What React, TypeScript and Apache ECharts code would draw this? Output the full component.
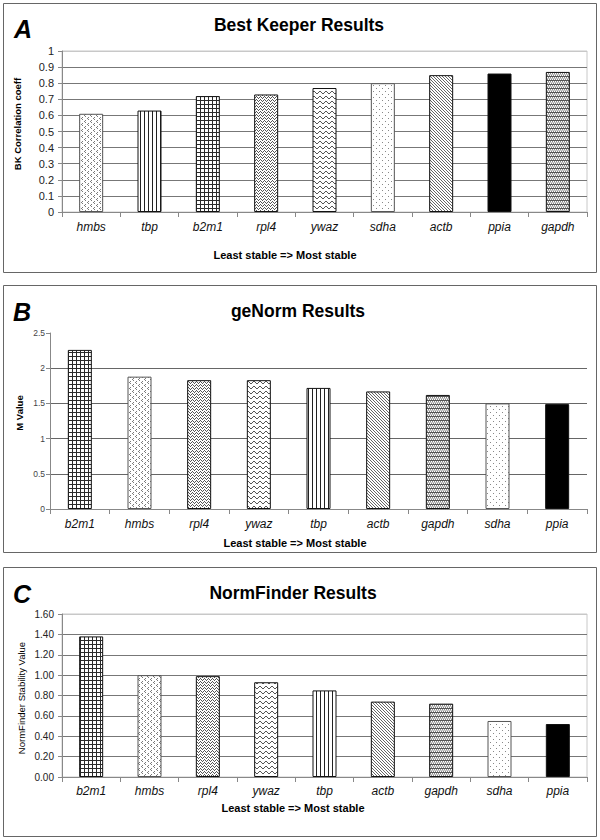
import React, { useEffect, useRef } from "react";
import * as echarts from "echarts";

// ---------- data ----------
const bkCategories = ["hmbs", "tbp", "b2m1", "rpl4", "ywaz", "sdha", "actb", "ppia", "gapdh"];
const bkValues = [0.61, 0.63, 0.72, 0.73, 0.77, 0.8, 0.85, 0.86, 0.87];

const genormCategories = ["b2m1", "hmbs", "rpl4", "ywaz", "tbp", "actb", "gapdh", "sdha", "ppia"];
const genormValues = [2.26, 1.88, 1.83, 1.83, 1.72, 1.67, 1.62, 1.5, 1.49];

const nfCategories = ["b2m1", "hmbs", "rpl4", "ywaz", "tbp", "actb", "gapdh", "sdha", "ppia"];
const nfValues = [1.38, 1.0, 0.99, 0.93, 0.85, 0.74, 0.72, 0.55, 0.52];

const bkAxis = { min: 0, max: 1, interval: 0.1 };
const genormAxis = { min: 0, max: 2.5, interval: 0.5 };
const nfAxis = { min: 0, max: 1.6, interval: 0.2 };

const titles = ["Best Keeper Results", "geNorm Results", "NormFinder Results"];
const panelLetters = ["A", "B", "C"];
const yNames = ["BK Correlation coeff", "M Value", "NormFinder Stability Value"];
const xName = "Least stable => Most stable";

const FONT = "'Liberation Sans', Arial, sans-serif";

type Ctx = CanvasRenderingContext2D;

function makePattern(w: number, h: number, draw: (ctx: Ctx) => void) {
  const c = document.createElement("canvas");
  c.width = w;
  c.height = h;
  const ctx = c.getContext("2d") as Ctx;
  ctx.fillStyle = "#ffffff";
  ctx.fillRect(0, 0, w, h);
  draw(ctx);
  return { image: c.toDataURL(), repeat: "repeat", imageWidth: w, imageHeight: h } as any;
}

function px(ctx: Ctx, pts: number[][], color: string) {
  ctx.fillStyle = color;
  pts.forEach(([x, y]) => ctx.fillRect(x, y, 1, 1));
}

function buildPatterns(): Record<string, any> {
  return {
    hmbs: makePattern(6, 6, (ctx) => {
      px(ctx, [[1, 0], [0, 1], [1, 2], [4, 3], [3, 4], [4, 5]], "#7a7a7a");
    }),
    tbp: makePattern(4, 4, (ctx) => {
      ctx.fillStyle = "#222";
      ctx.fillRect(0, 0, 1, 4);
    }),
    b2m1: makePattern(4, 4, (ctx) => {
      ctx.fillStyle = "#2a2a2a";
      ctx.fillRect(0, 0, 4, 1);
      ctx.fillRect(0, 0, 1, 4);
    }),
    rpl4: makePattern(4, 3, (ctx) => {
      px(ctx, [[0, 0], [1, 1], [2, 2], [3, 1]], "#555");
    }),
    ywaz: makePattern(6, 5, (ctx) => {
      px(ctx, [[0, 2], [1, 1], [2, 1], [3, 2], [4, 3], [5, 3]], "#555");
    }),
    sdha: makePattern(6, 6, (ctx) => {
      px(ctx, [[1, 1], [4, 4]], "#888");
    }),
    actb: makePattern(3, 3, (ctx) => {
      px(ctx, [[0, 0], [1, 1], [2, 2]], "#666");
    }),
    gapdh: makePattern(4, 4, (ctx) => {
      ctx.fillStyle = "#555";
      ctx.fillRect(0, 0, 4, 1);
      px(ctx, [[0, 1], [2, 1], [1, 3], [3, 3]], "#888");
      ctx.fillStyle = "#c4c4c4";
      ctx.fillRect(0, 2, 4, 1);
    }),
    ppia: "#000000",
  };
}

export default function App() {
  const ref = useRef<HTMLDivElement>(null);

  useEffect(() => {
    if (!ref.current) return;
    const chart = echarts.init(ref.current, null, { renderer: "svg" });
    const patterns = buildPatterns();

    const panels = [
      {
        cats: bkCategories,
        vals: bkValues,
        axis: bkAxis,
        grid: { left: 62, right: 13, top: 51, height: 161, show: true, borderColor: "#c8c8c8", borderWidth: 1 },
        split: [...Array(10).fill("#777"), "#c8c8c8"],
        yLabel: { fontSize: 11, color: "#222", margin: 8, formatter: (v: number) => String(+v.toFixed(1)) },
        xMargin: 9,
      },
      {
        cats: genormCategories,
        vals: genormValues,
        axis: genormAxis,
        grid: { left: 50, right: 13, top: 333, height: 176, show: false },
        split: [...Array(5).fill("#666"), "rgba(0,0,0,0)"],
        yLabel: { fontSize: 8.5, color: "#444", margin: 5, formatter: (v: number) => String(+v.toFixed(1)) },
        xMargin: 9,
      },
      {
        cats: nfCategories,
        vals: nfValues,
        axis: nfAxis,
        grid: { left: 62, right: 13, top: 614, height: 163, show: true, borderColor: "#c8c8c8", borderWidth: 1 },
        split: [...Array(8).fill("#777"), "#c8c8c8"],
        yLabel: { fontSize: 10, color: "#222", margin: 8, formatter: (v: number) => v.toFixed(2) },
        xMargin: 8,
      },
    ];

    const boxes = [
      { y: 3, h: 269 },
      { y: 285, h: 267 },
      { y: 567, h: 269 },
    ];
    const titleY = [25, 311, 593];
    const titleX = [299, 298, 293];
    const letterPos = [
      [23, 29],
      [22, 312],
      [22, 594],
    ];
    const xNamePos = [
      [285, 255],
      [295, 543],
      [293, 808],
    ];
    const yNamePos = [
      [17, 124, "bold", 9.5],
      [19, 413, "bold", 9.5],
      [21, 698, "normal", 9.5],
    ];

    const graphic: any[] = [];
    boxes.forEach((b) => {
      graphic.push({
        type: "rect",
        shape: { x: 3.5, y: b.y + 0.5, width: 593, height: b.h },
        style: { fill: "none", stroke: "#666", lineWidth: 1 },
        silent: true,
      });
    });
    titles.forEach((t, i) => {
      graphic.push({
        type: "text",
        x: titleX[i],
        y: titleY[i],
        style: {
          text: t,
          font: `bold 17.5px ${FONT}`,
          fill: "#000",
          align: "center",
          verticalAlign: "middle",
          textAlign: "center",
          textVerticalAlign: "middle",
        },
      });
    });
    panelLetters.forEach((t, i) => {
      graphic.push({
        type: "text",
        x: letterPos[i][0],
        y: letterPos[i][1],
        style: {
          text: t,
          font: `italic bold 25px ${FONT}`,
          fill: "#000",
          align: "center",
          verticalAlign: "middle",
          textAlign: "center",
          textVerticalAlign: "middle",
        },
      });
    });
    xNamePos.forEach((p) => {
      graphic.push({
        type: "text",
        x: p[0],
        y: p[1],
        style: {
          text: xName,
          font: `bold 11px ${FONT}`,
          fill: "#000",
          align: "center",
          verticalAlign: "middle",
          textAlign: "center",
          textVerticalAlign: "middle",
        },
      });
    });
    yNames.forEach((t, i) => {
      const p = yNamePos[i] as any[];
      graphic.push({
        type: "text",
        x: p[0],
        y: p[1],
        rotation: Math.PI / 2,
        style: {
          text: t,
          font: `${p[2]} ${p[3]}px ${FONT}`,
          fill: "#000",
          align: "center",
          verticalAlign: "middle",
          textAlign: "center",
          textVerticalAlign: "middle",
        },
      });
    });

    const option: any = {
      animation: false,
      backgroundColor: "#ffffff",
      textStyle: { fontFamily: FONT },
      grid: panels.map((p) => ({ ...p.grid, containLabel: false })),
      xAxis: panels.map((p, i) => ({
        type: "category",
        gridIndex: i,
        data: p.cats,
        axisLine: { show: true, lineStyle: { color: "#888", width: 1 } },
        axisTick: { show: true, alignWithLabel: false, length: 5, lineStyle: { color: "#888" } },
        axisLabel: {
          fontStyle: "italic",
          fontSize: 12,
          color: "#111",
          margin: p.xMargin,
          fontFamily: FONT,
        },
        splitLine: { show: false },
      })),
      yAxis: panels.map((p, i) => ({
        type: "value",
        gridIndex: i,
        min: p.axis.min,
        max: p.axis.max,
        interval: p.axis.interval,
        axisLine: { show: true, lineStyle: { color: "#888", width: 1 } },
        axisTick: { show: true, length: 4, lineStyle: { color: "#888" } },
        axisLabel: { ...p.yLabel, fontFamily: FONT },
        splitLine: { show: true, lineStyle: { color: p.split, width: 1 } },
      })),
      series: panels.map((p, i) => ({
        type: "bar",
        xAxisIndex: i,
        yAxisIndex: i,
        barWidth: 24,
        data: p.vals.map((v, j) => ({
          value: v,
          itemStyle: {
            color: patterns[p.cats[j]],
            borderColor: p.cats[j] === "sdha" || p.cats[j] === "hmbs" ? "#555" : "#111",
            borderWidth: 1,
          },
        })),
      })),
      graphic,
    };

    chart.setOption(option);
    return () => chart.dispose();
  }, []);

  return (
    <div
      ref={ref}
      style={{ position: "fixed", left: 0, top: 0, width: 600, height: 840, background: "#fff" }}
    />
  );
}
